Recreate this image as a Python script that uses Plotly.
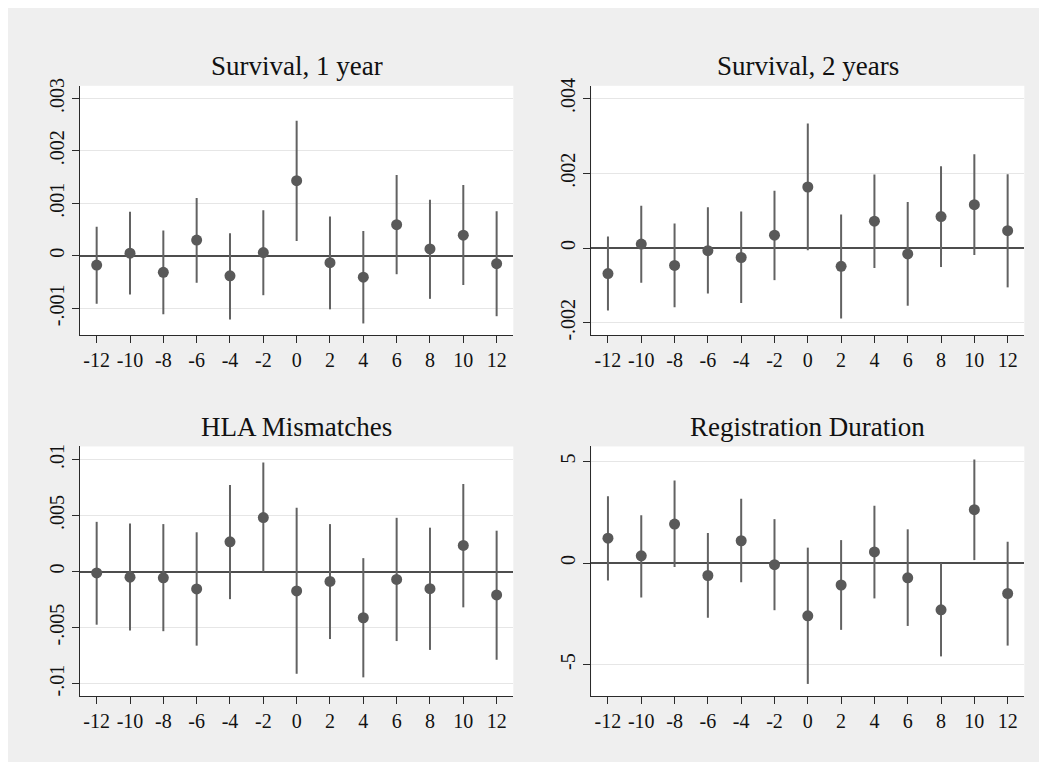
import plotly.graph_objects as go
from plotly.subplots import make_subplots

# ---------------- data ----------------
periods = [-12, -10, -8, -6, -4, -2, 0, 2, 4, 6, 8, 10, 12]

titles = ["Survival, 1 year", "Survival, 2 years", "HLA Mismatches", "Registration Duration"]

surv1_est = [-0.000175, 0.00005, -0.000313, 0.0003, -0.000381, 0.000063, 0.001431,
             -0.000131, -0.000406, 0.000594, 0.000131, 0.000394, -0.00015]
surv1_hi = [0.000556, 0.000838, 0.000481, 0.0011, 0.000431, 0.000869, 0.002575,
            0.00075, 0.000475, 0.001538, 0.001069, 0.00135, 0.00085]
surv1_lo = [-0.000913, -0.000738, -0.001113, -0.000513, -0.001213, -0.00075, 0.000281,
            -0.001019, -0.001288, -0.00035, -0.000819, -0.000556, -0.00115]

surv2_est = [-0.000684, 0.000105, -0.000465, -0.00007, -0.000254, 0.000342, 0.001632,
             -0.000491, 0.000719, -0.000158, 0.000842, 0.001158, 0.000465]
surv2_hi = [0.000307, 0.001132, 0.000658, 0.001088, 0.000974, 0.001535, 0.003333,
            0.000895, 0.001965, 0.001228, 0.002184, 0.002509, 0.001974]
surv2_lo = [-0.001675, -0.00093, -0.001588, -0.001219, -0.001474, -0.00086, -0.000061,
            -0.001886, -0.000535, -0.001544, -0.000509, -0.000184, -0.001053]

hla_est = [-0.000117, -0.000497, -0.000556, -0.00155, 0.00266, 0.00482, -0.00173,
           -0.00088, -0.00412, -0.0007, -0.00152, 0.00234, -0.00208]
hla_hi = [0.00444, 0.0043, 0.00424, 0.00351, 0.00772, 0.00974, 0.0057,
          0.00424, 0.0012, 0.0048, 0.00392, 0.00781, 0.00365]
hla_lo = [-0.00474, -0.00526, -0.00532, -0.00661, -0.00246, -0.00006, -0.00912,
          -0.00602, -0.00944, -0.0062, -0.00699, -0.00319, -0.00787]

reg_est = [1.226, 0.355, 1.919, -0.613, 1.097, -0.081, -2.597,
           -1.081, 0.548, -0.726, -2.306, 2.629, -1.5]
reg_hi = [3.29, 2.355, 4.065, 1.484, 3.161, 2.161, 0.758,
          1.129, 2.823, 1.661, 0.0, 5.097, 1.048]
reg_lo = [-0.855, -1.694, -0.194, -2.694, -0.952, -2.323, -5.952,
          -3.29, -1.742, -3.097, -4.597, 0.145, -4.065]

x_ticks = [-12, -10, -8, -6, -4, -2, 0, 2, 4, 6, 8, 10, 12]
x_ticktext = ["-12", "-10", "-8", "-6", "-4", "-2", "0", "2", "4", "6", "8", "10", "12"]

y_ticks_1 = [-0.001, 0, 0.001, 0.002, 0.003]
y_text_1 = ["-.001", "0", ".001", ".002", ".003"]
y_ticks_2 = [-0.002, 0, 0.002, 0.004]
y_text_2 = ["-.002", "0", ".002", ".004"]
y_ticks_3 = [-0.01, -0.005, 0, 0.005, 0.01]
y_text_3 = ["-.01", "-.005", "0", ".005", ".01"]
y_ticks_4 = [-5, 0, 5]
y_text_4 = ["-5", "0", "5"]

# ---------------- styling ----------------
OFF = 8                      # default page (body) margin around the figure
W, H = 1047 - OFF, 770 - 2 * OFF
BG = "#efefef"
MARK = "#595959"
BAR = "#626262"
AXIS = "#2a2a2a"
GRID = "#e6e6e6"
FONT = "Liberation Serif, Times New Roman, serif"
ZERO = "#4d4d4d"

panels = [
    (surv1_est, surv1_lo, surv1_hi, y_ticks_1, y_text_1, [-0.00151, 0.00324]),
    (surv2_est, surv2_lo, surv2_hi, y_ticks_2, y_text_2, [-0.00233, 0.00434]),
    (hla_est, hla_lo, hla_hi, y_ticks_3, y_text_3, [-0.01111, 0.01117]),
    (reg_est, reg_lo, reg_hi, y_ticks_4, y_text_4, [-6.55, 5.74]),
]

# page-pixel geometry of the plot areas (left, right, top, bottom)
boxes = [
    (80.0, 513.3, 79.0, 332.7),
    (591.3, 1024.3, 79.0, 332.7),
    (80.0, 513.3, 446.0, 700.0),
    (591.3, 1024.3, 446.0, 700.0),
]
title_y = [59.0, 59.0, 426.0, 426.0]

fig = make_subplots(rows=2, cols=2)

for i, (est, lo, hi, yt, ytx, yr) in enumerate(panels):
    r, c = i // 2 + 1, i % 2 + 1
    plus = [h - e for h, e in zip(hi, est)]
    minus = [e - l for e, l in zip(est, lo)]
    fig.add_trace(go.Scatter(
        x=periods, y=est, mode="markers",
        marker=dict(size=11, color=MARK),
        error_y=dict(type="data", symmetric=False, array=plus, arrayminus=minus,
                     width=0, thickness=2, color=BAR),
        showlegend=False, hoverinfo="skip",
    ), row=r, col=c)

    L, R, T, B = [v - OFF for v in boxes[i]]
    xa = dict(domain=[L / W, R / W], range=[-13, 13], tickvals=x_ticks, ticktext=x_ticktext,
              showgrid=False, zeroline=False, showline=True, linecolor=AXIS, linewidth=1.3,
              ticks="outside", ticklen=7, tickwidth=1.3, tickcolor=AXIS,
              tickfont=dict(family=FONT, size=20, color="#111"), mirror=False, fixedrange=True)
    ya = dict(domain=[1 - B / H, 1 - T / H], range=yr, tickvals=yt, ticktext=ytx,
              showgrid=True, gridcolor=GRID, gridwidth=1.3,
              zeroline=True, zerolinecolor=ZERO, zerolinewidth=1.8,
              showline=True, linecolor=AXIS, linewidth=1.3,
              ticks="outside", ticklen=7, tickwidth=1.3, tickcolor=AXIS, tickangle=-90,
              tickfont=dict(family=FONT, size=20, color="#111"), mirror=False, fixedrange=True)
    fig.update_xaxes(xa, row=r, col=c)
    fig.update_yaxes(ya, row=r, col=c)

    # panel title
    fig.add_annotation(text=titles[i], xref="paper", yref="paper",
                       x=(L + R) / 2 / W, y=1 - (title_y[i] - OFF) / H,
                       xanchor="center", yanchor="middle",
                       showarrow=False, font=dict(family=FONT, size=27, color="#111"))

fig.update_layout(
    width=W, height=H,
    margin=dict(l=0, r=0, t=0, b=0),
    paper_bgcolor=BG, plot_bgcolor="white",
    font=dict(family=FONT, color="#111"),
    showlegend=False,
)

fig.write_html("out.html", config={"displayModeBar": False})
